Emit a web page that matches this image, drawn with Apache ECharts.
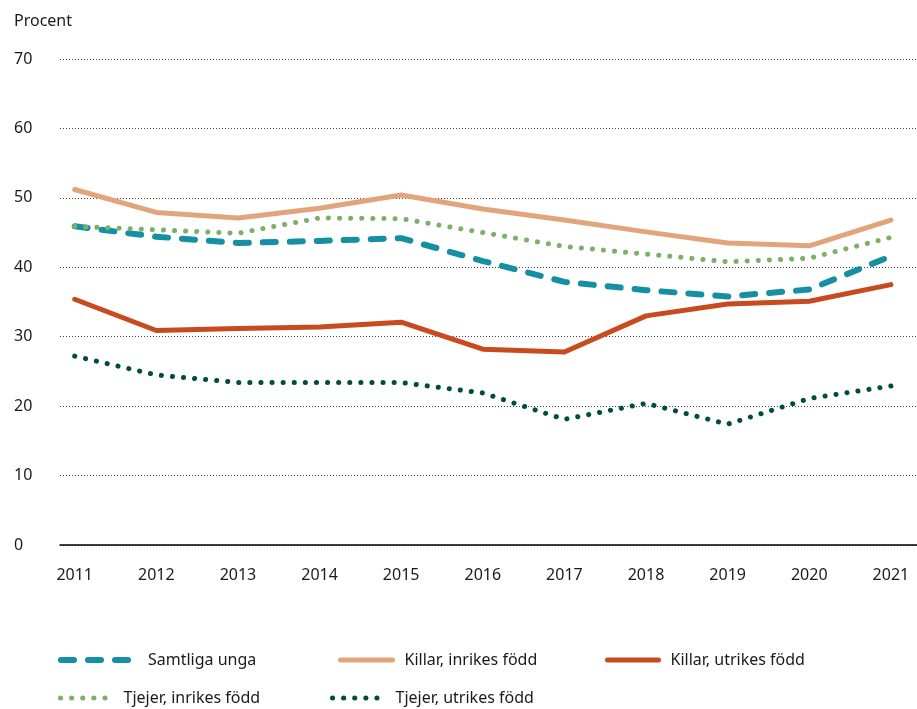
<!DOCTYPE html>
<html>
<head>
<meta charset="utf-8">
<script src="https://cdn.jsdelivr.net/npm/echarts@6/dist/echarts.min.js"></script>
<style>
  html, body { margin: 0; padding: 0; background: #fff; }
  #chart { width: 917px; height: 709px; }
</style>
</head>
<body>
<div id="chart"></div>
<script>
// år
const years = [2011, 2012, 2013, 2014, 2015, 2016, 2017, 2018, 2019, 2020, 2021];
// procent per serie
const samtligaUnga = [45.9, 44.4, 43.5, 43.8, 44.2, 40.9, 37.9, 36.7, 35.8, 36.8, 41.6];
const killarInrikes = [51.2, 47.9, 47.1, 48.5, 50.4, 48.4, 46.8, 45.1, 43.5, 43.1, 46.8];
const killarUtrikes = [35.4, 30.9, 31.2, 31.4, 32.1, 28.2, 27.8, 33.0, 34.7, 35.1, 37.5];
const tjejerInrikes = [45.9, 45.4, 44.9, 47.1, 47.0, 45.0, 43.0, 41.9, 40.8, 41.3, 44.3];
const tjejerUtrikes = [27.2, 24.5, 23.4, 23.4, 23.4, 21.9, 18.1, 20.4, 17.4, 21.1, 22.9];
const yTicks = [0, 10, 20, 30, 40, 50, 60, 70];

const font = "'Noto Sans', sans-serif";
const txt = '#1a1a1a';

function pairs(vals) {
  return years.map((y, i) => [y, vals[i]]);
}

const seriesDefs = [
  { name: 'Samtliga unga', data: samtligaUnga, color: '#1590a3', width: 6, type: [13, 14] },
  { name: 'Killar, inrikes född', data: killarInrikes, color: '#e2a47b', width: 5, type: 'solid' },
  { name: 'Killar, utrikes född', data: killarUtrikes, color: '#c84a1f', width: 5, type: 'solid' },
  { name: 'Tjejer, inrikes född', data: tjejerInrikes, color: '#7cb068', width: 5, type: [0.1, 11] },
  { name: 'Tjejer, utrikes född', data: tjejerUtrikes, color: '#004d3a', width: 5, type: [0.1, 11] }
];

const series = seriesDefs.map(s => ({
  name: s.name,
  type: 'line',
  data: pairs(s.data),
  symbol: 'none',
  color: s.color,
  lineStyle: { color: s.color, width: s.width, type: s.type, cap: 'round', join: 'round' },
  z: 3
}));

// en legend per post så att placeringen blir som i originalet
const legendPos = [
  { left: 58, top: 652, w: 77, gap: 5 },
  { left: 338, top: 652, w: 52, gap: 7 },
  { left: 605, top: 652, w: 51, gap: 7 },
  { left: 58, top: 690, w: 54, gap: 4 },
  { left: 330, top: 690, w: 54, gap: 4 }
];
const legend = seriesDefs.map((s, i) => ({
  data: [s.name],
  left: legendPos[i].left,
  top: legendPos[i].top,
  itemWidth: legendPos[i].w,
  itemHeight: 16,
  padding: 0,
  selectedMode: false,
  itemStyle: { opacity: 0 },
  lineStyle: { width: s.width, type: s.type, cap: 'round', color: s.color },
  textStyle: { fontFamily: font, fontSize: 16, color: txt, padding: [0, 0, 0, legendPos[i].gap] }
}));

const chart = echarts.init(document.getElementById('chart'));
chart.setOption({
  animation: false,
  backgroundColor: '#fff',
  title: {
    text: 'Procent',
    left: 9,
    top: 8,
    textStyle: { fontFamily: font, fontSize: 16, fontWeight: 'normal', color: txt }
  },
  legend,
  grid: { left: 60, right: 0, top: 59, bottom: 164 },
  xAxis: {
    type: 'value',
    min: 2010.82,
    max: 2021.32,
    splitNumber: 10,
    axisLine: { show: true, lineStyle: { color: '#000', width: 1.5 } },
    axisTick: { show: false },
    splitLine: { show: false },
    axisLabel: {
      margin: 22,
      fontFamily: font,
      fontSize: 16,
      color: txt,
      showMinLabel: false,
      showMaxLabel: false,
      formatter: v => (years.includes(v) ? String(v) : '')
    }
  },
  yAxis: {
    type: 'value',
    min: yTicks[0],
    max: yTicks[yTicks.length - 1],
    interval: 10,
    axisLine: { show: false },
    axisTick: { show: false },
    splitLine: { show: true, lineStyle: { color: '#444', width: 1, type: [1, 2] } },
    axisLabel: {
      margin: 46,
      align: 'left',
      fontFamily: font,
      fontSize: 16,
      color: txt
    }
  },
  series
});
</script>
</body>
</html>
